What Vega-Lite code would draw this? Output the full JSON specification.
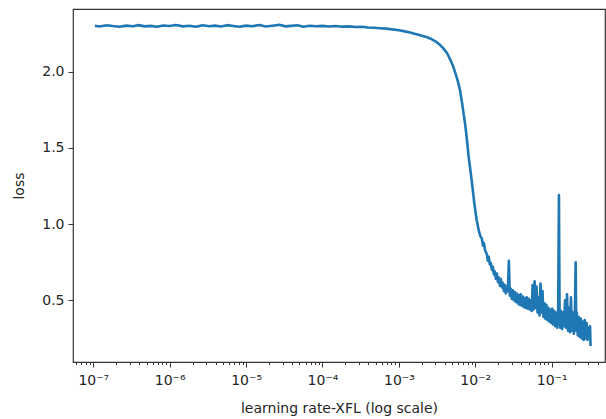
{
  "$schema": "https://vega.github.io/schema/vega-lite/v6.json",
  "autosize": "none",
  "width": 532,
  "height": 353,
  "padding": {"left": 73, "top": 9, "right": 1, "bottom": 57},
  "background": "white",
  "config": {
    "view": {"stroke": "#333", "strokeWidth": 1.2},
    "font": "DejaVu Sans",
    "axis": {"grid": false, "domain": false, "tickColor": "#333", "labelColor": "#262626", "titleColor": "#262626", "labelFont": "DejaVu Sans", "titleFont": "DejaVu Sans", "titleFontWeight": "normal", "labelFontSize": 14, "titleFontSize": 14}
  },
  "data": {"values": [
    {"lr": 1.05e-7, "loss": 2.302}, {"lr": 1.2e-7, "loss": 2.297}, {"lr": 1.5e-7, "loss": 2.305}, {"lr": 1.8e-7, "loss": 2.300},
    {"lr": 2.2e-7, "loss": 2.296}, {"lr": 2.7e-7, "loss": 2.303}, {"lr": 3.3e-7, "loss": 2.299}, {"lr": 3.9e-7, "loss": 2.306},
    {"lr": 4.7e-7, "loss": 2.298}, {"lr": 5.6e-7, "loss": 2.301}, {"lr": 6.8e-7, "loss": 2.295}, {"lr": 8.2e-7, "loss": 2.304},
    {"lr": 1e-6, "loss": 2.300}, {"lr": 1.2e-6, "loss": 2.307}, {"lr": 1.5e-6, "loss": 2.298}, {"lr": 1.8e-6, "loss": 2.302},
    {"lr": 2.2e-6, "loss": 2.296}, {"lr": 2.7e-6, "loss": 2.305}, {"lr": 3.3e-6, "loss": 2.299}, {"lr": 3.9e-6, "loss": 2.303},
    {"lr": 4.7e-6, "loss": 2.297}, {"lr": 5.6e-6, "loss": 2.306}, {"lr": 6.8e-6, "loss": 2.300}, {"lr": 8.2e-6, "loss": 2.295},
    {"lr": 1e-5, "loss": 2.303}, {"lr": 1.2e-5, "loss": 2.299}, {"lr": 1.5e-5, "loss": 2.307}, {"lr": 1.8e-5, "loss": 2.297},
    {"lr": 2.2e-5, "loss": 2.302}, {"lr": 2.7e-5, "loss": 2.308}, {"lr": 3.3e-5, "loss": 2.298}, {"lr": 3.9e-5, "loss": 2.301},
    {"lr": 4.7e-5, "loss": 2.305}, {"lr": 5.6e-5, "loss": 2.296}, {"lr": 6.8e-5, "loss": 2.302}, {"lr": 8.2e-5, "loss": 2.299},
    {"lr": 1e-4, "loss": 2.301}, {"lr": 1.2e-4, "loss": 2.297}, {"lr": 1.5e-4, "loss": 2.300}, {"lr": 1.8e-4, "loss": 2.296},
    {"lr": 2.2e-4, "loss": 2.298}, {"lr": 2.7e-4, "loss": 2.294}, {"lr": 3.3e-4, "loss": 2.295}, {"lr": 3.9e-4, "loss": 2.291},
    {"lr": 4.7e-4, "loss": 2.289}, {"lr": 5.6e-4, "loss": 2.286}, {"lr": 6.8e-4, "loss": 2.283}, {"lr": 8.2e-4, "loss": 2.278},
    {"lr": 1.0e-3, "loss": 2.272}, {"lr": 1.2e-3, "loss": 2.265}, {"lr": 1.4e-3, "loss": 2.258}, {"lr": 1.6e-3, "loss": 2.250},
    {"lr": 1.8e-3, "loss": 2.243}, {"lr": 2.0e-3, "loss": 2.236}, {"lr": 2.3e-3, "loss": 2.228}, {"lr": 2.6e-3, "loss": 2.217},
    {"lr": 3.0e-3, "loss": 2.200}, {"lr": 3.4e-3, "loss": 2.180}, {"lr": 3.8e-3, "loss": 2.155}, {"lr": 4.3e-3, "loss": 2.120},
    {"lr": 4.7e-3, "loss": 2.080}, {"lr": 5.1e-3, "loss": 2.040}, {"lr": 5.5e-3, "loss": 1.990}, {"lr": 5.9e-3, "loss": 1.940},
    {"lr": 6.3e-3, "loss": 1.880}, {"lr": 6.7e-3, "loss": 1.800}, {"lr": 7.0e-3, "loss": 1.730}, {"lr": 7.3e-3, "loss": 1.670},
    {"lr": 7.6e-3, "loss": 1.600}, {"lr": 7.9e-3, "loss": 1.520}, {"lr": 8.2e-3, "loss": 1.440}, {"lr": 8.5e-3, "loss": 1.380},
    {"lr": 8.8e-3, "loss": 1.320}, {"lr": 9.1e-3, "loss": 1.260}, {"lr": 9.4e-3, "loss": 1.200}, {"lr": 9.7e-3, "loss": 1.140},
    {"lr": 1.0e-2, "loss": 1.090}, {"lr": 1.04e-2, "loss": 1.030}, {"lr": 1.08e-2, "loss": 0.990}, {"lr": 1.12e-2, "loss": 0.950},
    {"lr": 1.17e-2, "loss": 0.920},
    {"lr": 0.0122, "loss": 0.905}, {"lr": 0.0126, "loss": 0.860}, {"lr": 0.0130, "loss": 0.875}, {"lr": 0.0134, "loss": 0.830},
    {"lr": 0.0138, "loss": 0.815}, {"lr": 0.0142, "loss": 0.800}, {"lr": 0.0146, "loss": 0.760}, {"lr": 0.0150, "loss": 0.785},
    {"lr": 0.0155, "loss": 0.735}, {"lr": 0.0160, "loss": 0.745}, {"lr": 0.0165, "loss": 0.700}, {"lr": 0.0170, "loss": 0.720},
    {"lr": 0.0175, "loss": 0.670}, {"lr": 0.0180, "loss": 0.690}, {"lr": 0.0186, "loss": 0.640}, {"lr": 0.0192, "loss": 0.675},
    {"lr": 0.0198, "loss": 0.620}, {"lr": 0.0204, "loss": 0.650}, {"lr": 0.0210, "loss": 0.595}, {"lr": 0.0216, "loss": 0.640},
    {"lr": 0.0223, "loss": 0.585}, {"lr": 0.0230, "loss": 0.615}, {"lr": 0.0237, "loss": 0.560}, {"lr": 0.0244, "loss": 0.600},
    {"lr": 0.0251, "loss": 0.545}, {"lr": 0.0259, "loss": 0.590}, {"lr": 0.0267, "loss": 0.560}, {"lr": 0.0275, "loss": 0.760},
    {"lr": 0.0283, "loss": 0.530}, {"lr": 0.0292, "loss": 0.575}, {"lr": 0.0301, "loss": 0.510}, {"lr": 0.0310, "loss": 0.565},
    {"lr": 0.0319, "loss": 0.500}, {"lr": 0.0329, "loss": 0.555}, {"lr": 0.0339, "loss": 0.490}, {"lr": 0.0349, "loss": 0.545},
    {"lr": 0.0360, "loss": 0.480}, {"lr": 0.0371, "loss": 0.535}, {"lr": 0.0382, "loss": 0.470}, {"lr": 0.0394, "loss": 0.540},
    {"lr": 0.0406, "loss": 0.465}, {"lr": 0.0418, "loss": 0.525}, {"lr": 0.0431, "loss": 0.455}, {"lr": 0.0444, "loss": 0.515},
    {"lr": 0.0457, "loss": 0.450}, {"lr": 0.0471, "loss": 0.520}, {"lr": 0.0485, "loss": 0.445}, {"lr": 0.0500, "loss": 0.510},
    {"lr": 0.0515, "loss": 0.440}, {"lr": 0.0531, "loss": 0.500}, {"lr": 0.0547, "loss": 0.430}, {"lr": 0.0563, "loss": 0.600},
    {"lr": 0.0580, "loss": 0.440}, {"lr": 0.0598, "loss": 0.625}, {"lr": 0.0616, "loss": 0.450}, {"lr": 0.0634, "loss": 0.590},
    {"lr": 0.0653, "loss": 0.420}, {"lr": 0.0673, "loss": 0.520}, {"lr": 0.0693, "loss": 0.400}, {"lr": 0.0714, "loss": 0.610},
    {"lr": 0.0736, "loss": 0.420}, {"lr": 0.0758, "loss": 0.560}, {"lr": 0.0781, "loss": 0.390}, {"lr": 0.0804, "loss": 0.480},
    {"lr": 0.0828, "loss": 0.380}, {"lr": 0.0853, "loss": 0.470}, {"lr": 0.0879, "loss": 0.370}, {"lr": 0.0905, "loss": 0.450},
    {"lr": 0.0932, "loss": 0.360}, {"lr": 0.0960, "loss": 0.440}, {"lr": 0.0989, "loss": 0.350}, {"lr": 0.1019, "loss": 0.445},
    {"lr": 0.1050, "loss": 0.340}, {"lr": 0.1081, "loss": 0.430}, {"lr": 0.1114, "loss": 0.330}, {"lr": 0.1147, "loss": 0.420},
    {"lr": 0.1181, "loss": 0.320}, {"lr": 0.1217, "loss": 0.440}, {"lr": 0.1245, "loss": 1.190}, {"lr": 0.1270, "loss": 0.380},
    {"lr": 0.1291, "loss": 0.320}, {"lr": 0.1330, "loss": 0.430}, {"lr": 0.1370, "loss": 0.310}, {"lr": 0.1411, "loss": 0.420},
    {"lr": 0.1453, "loss": 0.330}, {"lr": 0.1497, "loss": 0.500}, {"lr": 0.1542, "loss": 0.320}, {"lr": 0.1588, "loss": 0.540},
    {"lr": 0.1636, "loss": 0.300}, {"lr": 0.1685, "loss": 0.450}, {"lr": 0.1735, "loss": 0.290}, {"lr": 0.1787, "loss": 0.520},
    {"lr": 0.1841, "loss": 0.300}, {"lr": 0.1896, "loss": 0.420}, {"lr": 0.1953, "loss": 0.280}, {"lr": 0.2012, "loss": 0.400},
    {"lr": 0.2060, "loss": 0.750}, {"lr": 0.2100, "loss": 0.300}, {"lr": 0.2134, "loss": 0.420}, {"lr": 0.2198, "loss": 0.270},
    {"lr": 0.2264, "loss": 0.390}, {"lr": 0.2332, "loss": 0.260}, {"lr": 0.2402, "loss": 0.380}, {"lr": 0.2474, "loss": 0.250},
    {"lr": 0.2548, "loss": 0.360}, {"lr": 0.2625, "loss": 0.240}, {"lr": 0.2703, "loss": 0.370}, {"lr": 0.2784, "loss": 0.250},
    {"lr": 0.2868, "loss": 0.350}, {"lr": 0.2954, "loss": 0.240}, {"lr": 0.3043, "loss": 0.320}, {"lr": 0.3134, "loss": 0.260},
    {"lr": 0.3180, "loss": 0.330}, {"lr": 0.3228, "loss": 0.200}
  ]},
  "mark": {"type": "line", "color": "#1f77b4", "strokeWidth": 2.6, "strokeJoin": "round"},
  "encoding": {
    "x": {
      "field": "lr", "type": "quantitative",
      "scale": {"type": "log", "domain": [5.42e-8, 0.499], "nice": false},
      "axis": {
        "title": "learning rate-XFL (log scale)",
        "values": [6e-8, 7e-8, 8e-8, 9e-8, 1e-7, 2e-7, 3e-7, 4e-7, 5e-7, 6e-7, 7e-7, 8e-7, 9e-7, 1e-6, 2e-6, 3e-6, 4e-6, 5e-6, 6e-6, 7e-6, 8e-6, 9e-6, 1e-5, 2e-5, 3e-5, 4e-5, 5e-5, 6e-5, 7e-5, 8e-5, 9e-5, 1e-4, 2e-4, 3e-4, 4e-4, 5e-4, 6e-4, 7e-4, 8e-4, 9e-4, 1e-3, 2e-3, 3e-3, 4e-3, 5e-3, 6e-3, 7e-3, 8e-3, 9e-3, 1e-2, 2e-2, 3e-2, 4e-2, 5e-2, 6e-2, 7e-2, 8e-2, 9e-2, 0.1, 0.2, 0.3, 0.4],
        "labelExpr": "abs(log(datum.value)/LN10 - round(log(datum.value)/LN10)) < 0.001 ? '10⁻' + ['','¹','²','³','⁴','⁵','⁶','⁷'][round(-log(datum.value)/LN10)] : ''",
        "tickSize": {"condition": {"test": "abs(log(datum.value)/LN10 - round(log(datum.value)/LN10)) < 0.001", "value": 5}, "value": 2.5},
        "labelOverlap": false,
        "labelBound": false,
        "labelFlush": false,
        "labelPadding": 6,
        "titlePadding": 14
      }
    },
    "y": {
      "field": "loss", "type": "quantitative",
      "scale": {"domain": [0.095, 2.412], "nice": false, "zero": false},
      "axis": {
        "title": "loss",
        "values": [0.5, 1.0, 1.5, 2.0],
        "format": ".1f",
        "tickSize": 5,
        "labelPadding": 4,
        "titlePadding": 15
      }
    }
  }
}
